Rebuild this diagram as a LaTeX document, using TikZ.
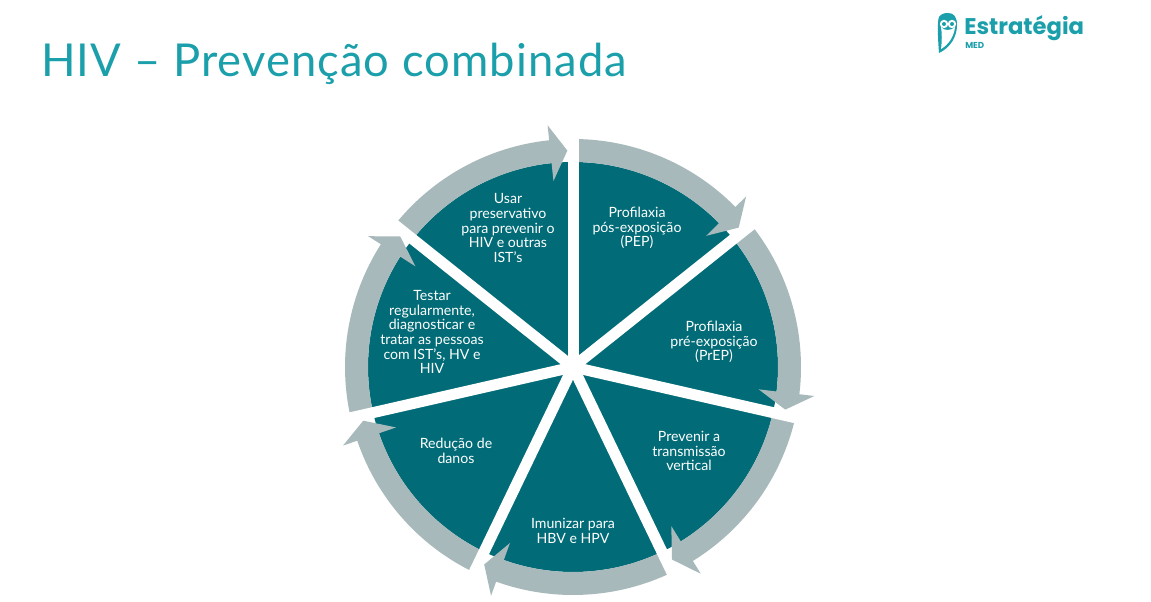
\documentclass[tikz,border=0pt]{standalone}
\usepackage{fontspec}
\setmainfont{Lato}
\newfontfamily\titlefont[LetterSpace=2.4]{Lato}
\newfontfamily\brandfont{Poppins}
\usetikzlibrary{positioning}
\definecolor{HIVTeal}{HTML}{016C77}
\definecolor{HIVGrey}{HTML}{A8B9BC}
\definecolor{HIVTitle}{HTML}{1A9FAB}

\begin{document}
\begin{tikzpicture}[
    x=0.75pt, y=0.75pt,
    sectorlabel/.style={align=center, text=white, inner sep=0pt,
                        font=\fontsize{10.6}{11}\selectfont},
    spoke/.style={draw=white, line width=8.25pt},
    ring/.style={fill=HIVGrey}
]
\useasboundingbox[fill=white] (0,0) rectangle (1151,601);

% --- Title and logo ------------------------------------------------------
\node[anchor=base west, inner sep=0pt, text=HIVTitle, font=\fontsize{34}{38}\titlefont]
      (title) at (41,524) {HIV – Prevenção combinada};
\node[anchor=base west, inner sep=0pt, text=HIVTitle, font=\fontsize{17}{20}\brandfont\bfseries]
      (brand) at (964,566) {Estratégia};
\node[anchor=base west, inner sep=0pt, text=HIVTitle, font=\fontsize{6.5}{8}\brandfont\bfseries]
      (med) at (965,552) {MED};

% owl
\fill[HIVTitle] (948,588) .. controls (954,588) and (957,584) .. (957,576)
    .. controls (957,564) and (950,553) .. (939,548)
    .. controls (938,560) and (937,580) .. (939,584)
    .. controls (941,587) and (944,588) .. (948,588) -- cycle;
\fill[white] (941,574) .. controls (944,570) and (951,570) .. (955,574)
    .. controls (954,564) and (948,556) .. (941,552)
    .. controls (942,560) and (942,568) .. (941,574) -- cycle;
\foreach \eyex in {944,952} {
    \fill[white] (\eyex,577) circle (4.2);
    \fill[HIVTitle] (\eyex,577) circle (2);
}

% --- Wheel ---------------------------------------------------------------
\begin{scope}[shift={(573,234)}]
    \fill[HIVTeal] (0,0) circle (205);
    \foreach \i [evaluate=\i as \from using 90-\i*360/7] in {0,...,6} {
        \pgfmathsetmacro{\head}{\from-360/7+6}
        \pgfmathsetmacro{\tip}{\from-360/7+1.5}
        \fill[ring] (\from:228) arc[start angle=\from, end angle=\head, radius=228]
            -- (\head:243) -- (\tip:216.5) -- (\head:187) -- (\head:205)
            arc[start angle=\head, end angle=\from, radius=205] -- cycle;
    }
    \foreach \i [evaluate=\i as \from using 90-\i*360/7] in {0,...,6}
        \draw[spoke] (0,0) -- (\from:250);
\end{scope}

% --- Sector labels -------------------------------------------------------
\node[sectorlabel] (pep)    at (637,373) {Profilaxia\\pós-exposição\\(PEP)};
\node[sectorlabel] (prep)   at (714,259) {Profilaxia\\pré-exposição\\(PrEP)};
\node[sectorlabel] (vert)   at (689,150) {Prevenir a\\transmissão\\vertical};
\node[sectorlabel] (imun)   at (573,70)  {Imunizar para\\HBV e HPV};
\node[sectorlabel] (danos)  at (456,150) {Redução de\\danos};
\node[sectorlabel] (testar) at (432,269) {Testar\\regularmente,\\diagnosticar e\\tratar as pessoas\\com IST's, HV e\\HIV};
\node[sectorlabel] (usar)   at (508,373) {Usar\\preservativo\\para prevenir o\\HIV e outras\\IST's};

\end{tikzpicture}
\end{document}
